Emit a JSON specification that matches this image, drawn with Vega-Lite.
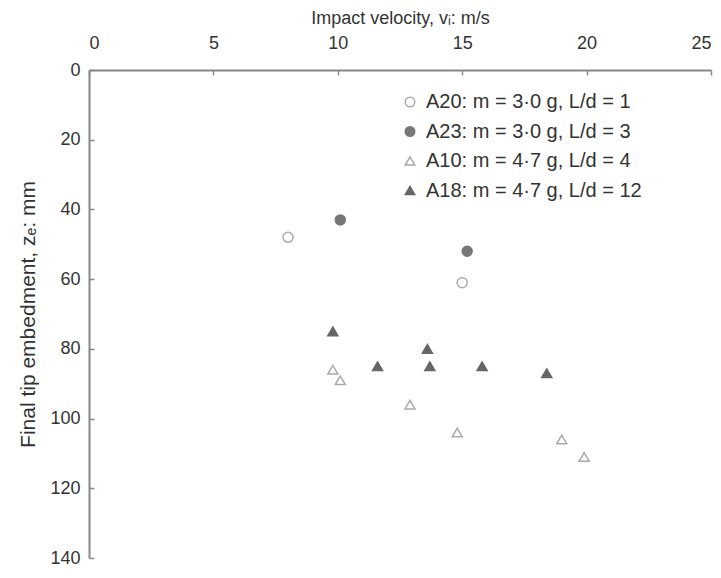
{
  "$schema": "https://vega.github.io/schema/vega-lite/v6.json",
  "width": 622,
  "height": 488,
  "autosize": {"type": "none"},
  "padding": {"left": 89, "top": 70, "right": 10, "bottom": 20},
  "background": "white",
  "config": {
    "view": {"stroke": null},
    "font": "Liberation Sans",
    "axis": {"grid": false, "domainColor": "#888", "domainWidth": 2, "tickColor": "#888", "tickWidth": 1.5, "labelFont": "Liberation Sans", "titleFont": "Liberation Sans", "labelFontSize": 18, "titleFontSize": 18, "labelColor": "#333", "titleColor": "#333", "titleFontWeight": "normal"}
  },
  "data": {"values": [
    {"series": "A20: m = 3·0 g, L/d = 1", "v": 8.0, "z": 48},
    {"series": "A20: m = 3·0 g, L/d = 1", "v": 15.0, "z": 61},
    {"series": "A23: m = 3·0 g, L/d = 3", "v": 10.1, "z": 43},
    {"series": "A23: m = 3·0 g, L/d = 3", "v": 15.2, "z": 52},
    {"series": "A10: m = 4·7 g, L/d = 4", "v": 9.8, "z": 86},
    {"series": "A10: m = 4·7 g, L/d = 4", "v": 10.1, "z": 89},
    {"series": "A10: m = 4·7 g, L/d = 4", "v": 12.9, "z": 96},
    {"series": "A10: m = 4·7 g, L/d = 4", "v": 14.8, "z": 104},
    {"series": "A10: m = 4·7 g, L/d = 4", "v": 19.0, "z": 106},
    {"series": "A10: m = 4·7 g, L/d = 4", "v": 19.9, "z": 111},
    {"series": "A18: m = 4·7 g, L/d = 12", "v": 9.8, "z": 75},
    {"series": "A18: m = 4·7 g, L/d = 12", "v": 11.6, "z": 85},
    {"series": "A18: m = 4·7 g, L/d = 12", "v": 13.6, "z": 80},
    {"series": "A18: m = 4·7 g, L/d = 12", "v": 13.7, "z": 85},
    {"series": "A18: m = 4·7 g, L/d = 12", "v": 15.8, "z": 85},
    {"series": "A18: m = 4·7 g, L/d = 12", "v": 18.4, "z": 87}
  ]},
  "mark": {"type": "point", "strokeWidth": 1.5, "opacity": 1},
  "encoding": {
    "x": {"field": "v", "type": "quantitative", "scale": {"domain": [0, 25], "nice": false}, "axis": {"orient": "top", "title": "Impact velocity, vᵢ: m/s", "values": [0, 5, 10, 15, 20, 25], "tickSize": -5, "labelPadding": 23, "titlePadding": 7}},
    "y": {"field": "z", "type": "quantitative", "scale": {"domain": [0, 140], "reverse": true, "nice": false}, "axis": {"title": "Final tip embedment, zₑ: mm", "titleFontSize": 21, "values": [0, 20, 40, 60, 80, 100, 120, 140], "tickSize": -5, "labelPadding": 14, "titlePadding": 11}},
    "shape": {"field": "series", "type": "nominal", "sort": null, "scale": {"domain": ["A20: m = 3·0 g, L/d = 1", "A23: m = 3·0 g, L/d = 3", "A10: m = 4·7 g, L/d = 4", "A18: m = 4·7 g, L/d = 12"], "range": ["circle", "circle", "triangle-up", "triangle-up"]},
      "legend": {"title": null, "orient": "none", "legendX": 311, "legendY": 22, "labelFontSize": 20, "labelColor": "#333", "labelLimit": 0, "rowPadding": 9.5, "symbolSize": 90, "labelOffset": 6, "padding": 0}},
    "stroke": {"field": "series", "type": "nominal", "scale": {"domain": ["A20: m = 3·0 g, L/d = 1", "A23: m = 3·0 g, L/d = 3", "A10: m = 4·7 g, L/d = 4", "A18: m = 4·7 g, L/d = 12"], "range": ["#aaaaaa", "#777777", "#aaaaaa", "#666666"]}},
    "fill": {"field": "series", "type": "nominal", "scale": {"domain": ["A20: m = 3·0 g, L/d = 1", "A23: m = 3·0 g, L/d = 3", "A10: m = 4·7 g, L/d = 4", "A18: m = 4·7 g, L/d = 12"], "range": ["#ffffff", "#777777", "#ffffff", "#666666"]}},
    "size": {"value": 100}
  }
}
